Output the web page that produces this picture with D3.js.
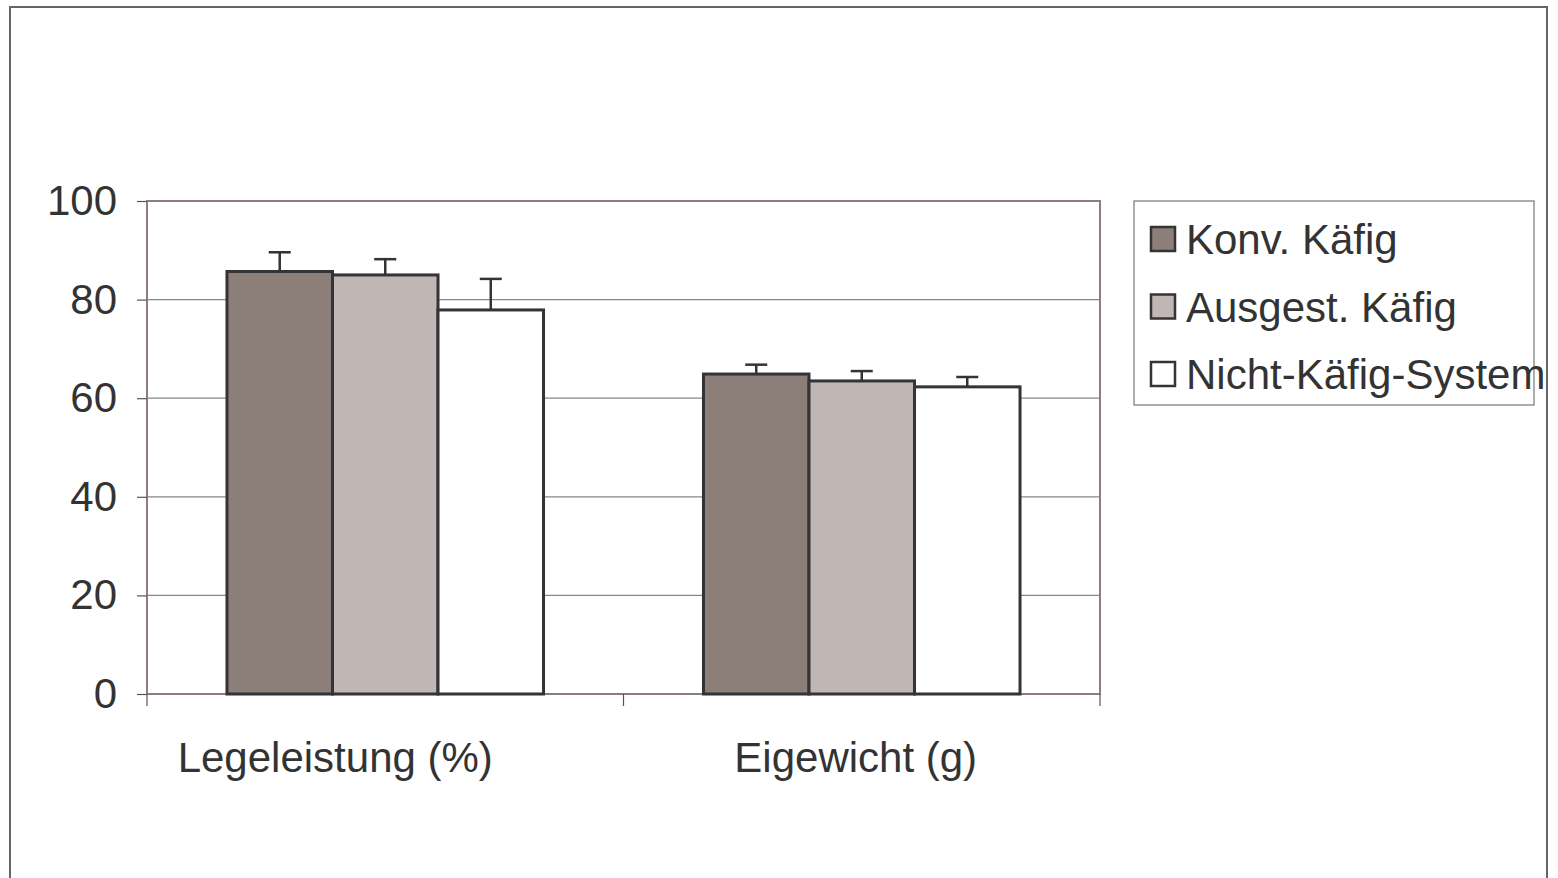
<!DOCTYPE html>
<html><head><meta charset="utf-8">
<script src="https://cdn.jsdelivr.net/npm/d3@7"></script>
<style>body{margin:0;background:#fff}svg{display:block;font-family:"Liberation Sans",Arial,sans-serif}</style>
</head><body><svg id="c" width="1558" height="878"></svg>
<script>
const categories = ["Legeleistung (%)", "Eigewicht (g)"];
const seriesNames = ["Konv. Käfig", "Ausgest. Käfig", "Nicht-Käfig-System"];
const konv = [85.7, 64.9];
const ausgest = [85.0, 63.5];
const nicht = [77.9, 62.3];
const konvErr = [3.9, 1.9];
const ausgestErr = [3.2, 2.0];
const nichtErr = [6.3, 2.0];
const yTicks = [0, 20, 40, 60, 80, 100];

const colors = ["#8c7f7a", "#c0b6b3", "#ffffff"];
const values = [konv, ausgest, nicht];
const errs = [konvErr, ausgestErr, nichtErr];

const svg = d3.select("#c");
const textColor = "#333333";
const fs = 42;
// outer frame
svg.append("rect").attr("x", 10).attr("y", 7).attr("width", 1537).attr("height", 880)
  .attr("fill", "#fff").attr("stroke", "#666").attr("stroke-width", 2);

const L = 147, R = 1100, T = 201, B = 694;
const x = d3.scaleBand().domain(categories).range([L, R]).paddingInner(0).paddingOuter(0);
const xs = d3.scaleBand().domain(seriesNames).range([0, x.bandwidth()]).paddingOuter(0.758).paddingInner(0);
const y = d3.scaleLinear().domain([0, 100]).range([B, T]);

// gridlines
svg.append("g").selectAll("line").data(yTicks.filter(d => d > 0 && d < 100)).join("line")
  .attr("x1", L).attr("x2", R).attr("y1", d => y(d)).attr("y2", d => y(d))
  .attr("stroke", "#888").attr("stroke-width", 1.2);

// plot frame
svg.append("rect").attr("x", L).attr("y", T).attr("width", R - L).attr("height", B - T)
  .attr("fill", "none").attr("stroke", "#8c7f7a").attr("stroke-width", 2);

// y axis
const yAxis = d3.axisLeft(y).tickValues(yTicks).tickSize(10).tickPadding(20).tickFormat(d3.format("d"));
const ya = svg.append("g").attr("transform", `translate(${L},0)`).call(yAxis);
ya.select(".domain").remove();
ya.selectAll(".tick line").attr("stroke", "#555").attr("stroke-width", 1.2);
ya.selectAll(".tick text").attr("font-size", fs).attr("fill", textColor).attr("font-family", "Liberation Sans, Arial, sans-serif");

// x axis ticks (boundaries)
const bounds = categories.map(c => x(c)).concat([R]);
svg.append("g").selectAll("line").data(bounds).join("line")
  .attr("x1", d => d).attr("x2", d => d).attr("y1", B).attr("y2", B + 12)
  .attr("stroke", "#555").attr("stroke-width", 1.2);

// bars
const groups = svg.append("g").selectAll("g").data(categories).join("g")
  .attr("transform", c => `translate(${x(c)},0)`);
groups.each(function(c, ci) {
  const g = d3.select(this);
  seriesNames.forEach((s, si) => {
    const v = values[si][ci], e = errs[si][ci];
    const bx = xs(s), bw = xs.bandwidth();
    g.append("line").attr("x1", bx + bw / 2).attr("x2", bx + bw / 2)
      .attr("y1", y(v)).attr("y2", y(v + e)).attr("stroke", "#333338").attr("stroke-width", 2.5);
    g.append("line").attr("x1", bx + bw / 2 - 11).attr("x2", bx + bw / 2 + 11)
      .attr("y1", y(v + e)).attr("y2", y(v + e)).attr("stroke", "#333338").attr("stroke-width", 2.5);
  });
  seriesNames.forEach((s, si) => {
    const v = values[si][ci];
    g.append("rect").attr("x", xs(s)).attr("y", y(v)).attr("width", xs.bandwidth()).attr("height", y(0) - y(v))
      .attr("fill", colors[si]).attr("stroke", "#333338").attr("stroke-width", 3);
  });
});

// x labels
const labelDx = [-50, -6];
svg.append("g").selectAll("text").data(categories).join("text")
  .attr("x", (c, i) => x(c) + x.bandwidth() / 2 + labelDx[i]).attr("y", 772)
  .attr("text-anchor", "middle").attr("font-size", fs).attr("fill", textColor).text(d => d);

// legend
const lg = svg.append("g");
lg.append("rect").attr("x", 1134).attr("y", 201).attr("width", 400).attr("height", 204)
  .attr("fill", "#fff").attr("stroke", "#777").attr("stroke-width", 1.2);
seriesNames.forEach((s, i) => {
  const cy = 239 + i * 67.5;
  lg.append("rect").attr("x", 1151).attr("y", cy - 12).attr("width", 24).attr("height", 24)
    .attr("fill", colors[i]).attr("stroke", "#333338").attr("stroke-width", 2.5);
  lg.append("text").attr("x", 1186).attr("y", cy + 15).attr("font-size", fs).attr("fill", textColor).text(s);
});
</script></body></html>
